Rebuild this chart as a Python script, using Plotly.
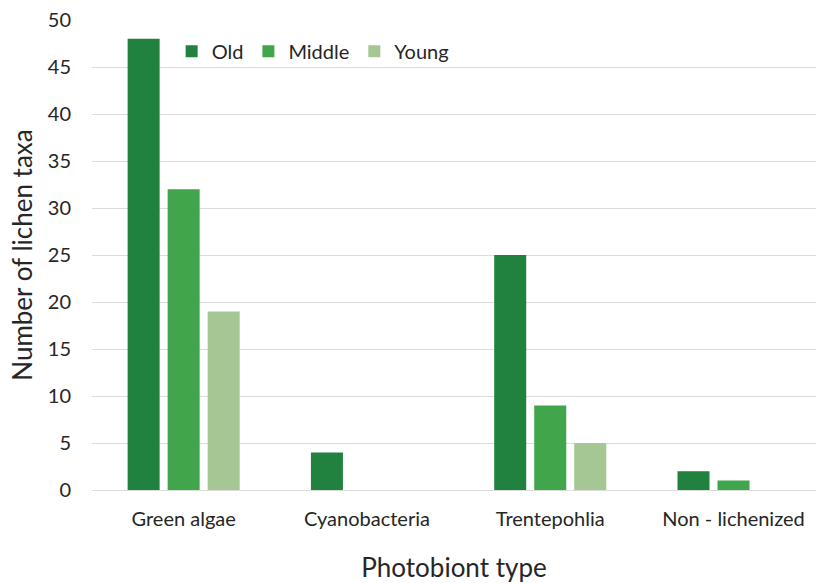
import plotly.graph_objects as go

categories = ["Green algae", "Cyanobacteria", "Trentepohlia", "Non - lichenized"]
old = [48, 4, 25, 2]
middle = [32, 0, 9, 1]
young = [19, 0, 5, 0]

colors = {"Old": "#21823F", "Middle": "#40A54B", "Young": "#A4C794"}
font_family = "Lato, 'Open Sans', sans-serif"

fig = go.Figure()
for name, vals in [("Old", old), ("Middle", middle), ("Young", young)]:
    fig.add_trace(go.Bar(name=name, x=categories, y=vals,
                         marker=dict(color=colors[name], line=dict(width=0))))

fig.update_layout(
    width=816, height=583,
    margin=dict(l=92, r=0, t=20, b=93),
    paper_bgcolor="white", plot_bgcolor="white",
    barmode="group", bargap=0.345, bargroupgap=0.2,
    font=dict(family=font_family, size=20, color="#262626"),
    legend=dict(orientation="h", x=0.11, y=0.975, xanchor="left", yanchor="top",
                font=dict(size=20), traceorder="normal",
                bgcolor="rgba(0,0,0,0)"),
    xaxis=dict(range=[-0.5, 3.45], showline=False, ticks="", tickfont=dict(size=20),
               ticklabelstandoff=15,
               title=dict(text="Photobiont type", font=dict(size=26), standoff=30)),
    yaxis=dict(range=[0, 50], dtick=5, showgrid=True, gridcolor="#DCDCDC", gridwidth=1,
               zeroline=True, zerolinecolor="#DCDCDC", zerolinewidth=1,
               ticks="", tickfont=dict(size=20), ticklabelstandoff=20,
               title=dict(text="Number of lichen taxa", font=dict(size=26), standoff=7)),
)

fig.write_html("out.html")
